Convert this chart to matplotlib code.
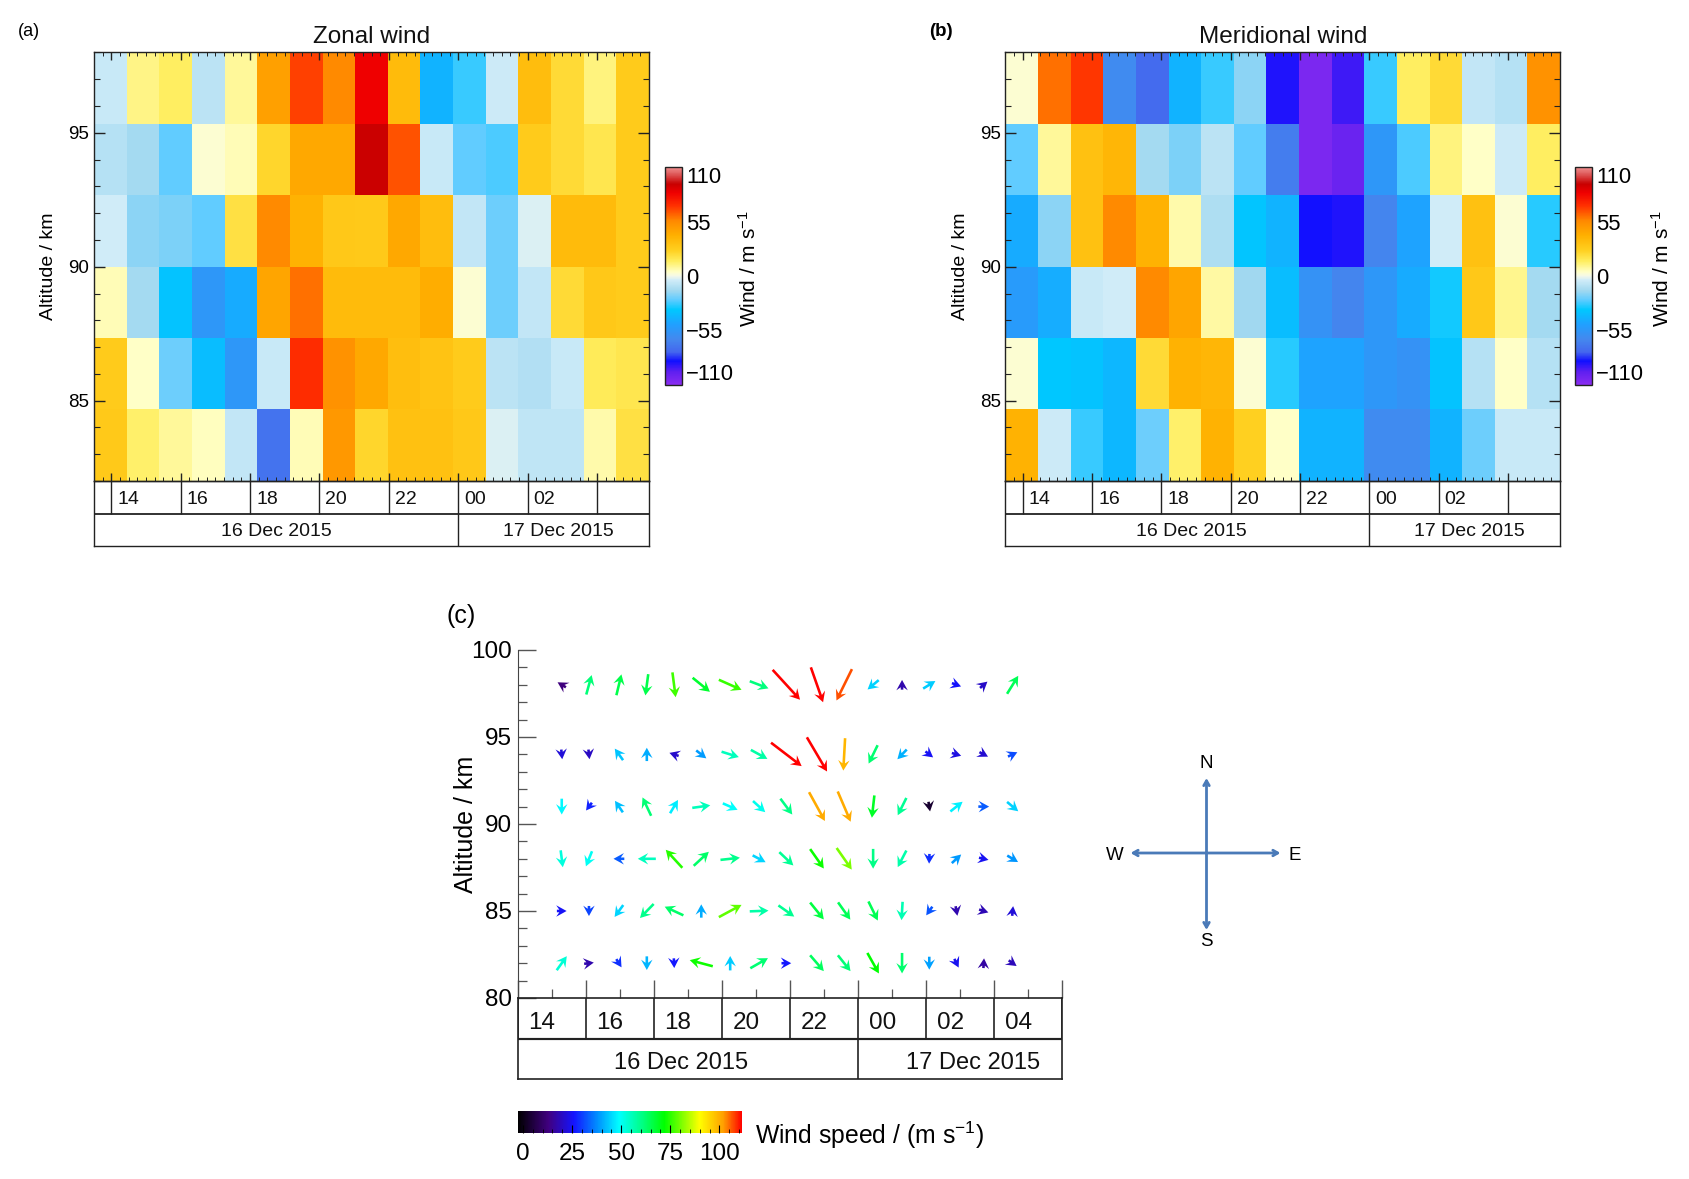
import numpy as np
import matplotlib
matplotlib.use('Agg')
import matplotlib.pyplot as plt
from matplotlib.colors import LinearSegmentedColormap, Normalize
from matplotlib.ticker import MultipleLocator

plt.rcParams['font.family'] = ['Liberation Sans', 'DejaVu Sans']
plt.rcParams['mathtext.default'] = 'regular'

W, H = 1690, 1179

# Panel (a) zonal wind, m/s, rows top (98 km) to bottom (82 km)
zonal = [
    [-6, 11, 15, -9, 9, 47, 68, 55, 84, 36, -42, -28, -5, 35, 22, 12, 28],
    [-10, -14, -24, 3, 6, 24, 44, 44, 92, 65, -6, -24, -26, 28, 22, 18, 28],
    [-4, -18, -20, -24, 20, 55, 40, 30, 29, 44, 35, -7, -22, -3, 36, 36, 28],
    [6, -14, -36, -55, -45, 45, 60, 36, 36, 36, 42, 3, -22, -7, 22, 30, 28],
    [28, 4, -22, -38, -55, -6, 72, 52, 44, 34, 32, 28, -9, -11, -6, 16, 18],
    [29, 14, 9, 5, -7, -72, 6, 50, 24, 33, 33, 30, -3, -8, -8, 7, 20],
]
# Panel (b) meridional wind, m/s
meridional = [
    [3, 60, 70, -62, -75, -42, -28, -18, -88, -105, -92, -28, 15, 22, -7, -10, 52],
    [-24, 9, 33, 38, -14, -20, -9, -24, -68, -105, -100, -55, -26, 12, 4, -5, 15],
    [-45, -18, 33, 55, 40, 7, -12, -35, -42, -86, -88, -65, -48, -4, 33, 3, -30],
    [-52, -44, -6, -4, 55, 45, 8, -15, -38, -58, -65, -55, -45, -32, 30, 10, -14],
    [3, -34, -36, -40, 22, 40, 38, 3, -30, -48, -48, -55, -58, -36, -10, 4, -10],
    [40, -5, -28, -40, -22, 14, 40, 26, 4, -42, -42, -62, -62, -42, -22, -6, -6],
]
alt_edges = [82, 84.67, 87.33, 90, 92.67, 95.33, 98]
hour_labels = ['14', '16', '18', '20', '22', '00', '02']
hour_ticks = [14, 16, 18, 20, 22, 24, 26, 28]

# Panel (c) arrows
arrow_hours = [14.3, 15.1, 15.98, 16.8, 17.6, 18.4, 19.25, 20.1, 20.9, 21.8, 22.6, 23.45, 24.3, 25.1, 25.9, 26.7, 27.55]
arrow_alts = [98, 94, 91, 88, 85, 82]
arrow_u = [
    [-10, 15, 14, -8, 9, 48, 63, 52, 76, 34, -43, -31, 0, 34, 22, 14, 31],
    [2, 2, -23, 0, -18, 28, 48, 46, 85, 56, -5, -25, -26, 18, 20, 17, 26],
    [0, -15, -22, -24, 22, 50, 41, 34, 33, 44, 36, -7, -24, 0.5, 34, 30, 31],
    [6, -17, -30, -50, -46, 42, 54, 36, 39, 38, 42, 0, -24, -1, 26, 22, 30],
    [23, 0, -24, -38, -52, 0, 63, 52, 44, 38, 34, 26, -3, -17, 3, 16, 2],
    [28, 16, 14, 0, 1, -64, 0, 49, 24, 38, 35, 32, 0, 0, 10, 1, 14],
]
arrow_v = [
    [6, 54, 58, -59, -69, -39, -28, -20, -83, -97, -87, -26, 16, 21, -8, 12, 50],
    [-20, -18, 32, 37, 6, -22, -15, -25, -65, -95, -90, -51, -27, -14, -6, -9, 12],
    [-44, -20, 32, 51, 37, 7, -18, -31, -44, -80, -84, -62, -48, -3, 27, 0, -26],
    [-47, -42, 0, 0, 50, 39, 6, -19, -37, -54, -60, -55, -46, -26, 24, -5, -18],
    [0, -28, -33, -39, 24, 37, 34, 2, -31, -47, -48, -53, -51, -24, -16, -5, 20],
    [39, 2, -22, -38, -24, 17, 40, 28, 0, -44, -44, -57, -57, -36, -20, 15, -10],
]
speed_ticks = [0, 25, 50, 75, 100]

fig = plt.figure(figsize=(W / 100, H / 100), dpi=100)


def px_axes(x0, y0, x1, y1):
    return fig.add_axes([x0 / W, 1 - y1 / H, (x1 - x0) / W, (y1 - y0) / H])


overlay = px_axes(0, 0, W, H)
overlay.set_xlim(0, W)
overlay.set_ylim(H, 0)
overlay.axis('off')
overlay.set_zorder(10)

# diverging map, anchors taken from the colour bars
wind_anchors = [
    (-110, '#8a2cf0'), (-97, '#6020f0'), (-86, '#1010ff'), (-77, '#4466ee'),
    (-64, '#4488ee'), (-49, '#20a0ff'), (-34, '#00c8ff'), (-24, '#60ccff'),
    (-15, '#a0d8f0'), (-4, '#d0ecf8'), (0, '#f4f8e8'), (4, '#ffffc8'),
    (15, '#ffee60'), (26, '#ffd020'), (41, '#ffb000'), (56, '#ff8800'),
    (71, '#ff3000'), (84, '#f00000'), (93, '#c80000'), (104, '#e06060'), (110, '#f09090'),
]
wind_cmap = LinearSegmentedColormap.from_list(
    'wind', [((v + 110) / 220, c) for v, c in wind_anchors], N=512)
wind_norm = Normalize(-110, 110)

speed_anchors = [
    (-2.5, '#000000'), (13, '#400080'), (26, '#1414ff'), (38, '#0090ff'), (49, '#00ffff'),
    (61, '#00ff80'), (72, '#00ff00'), (90, '#ffff00'), (102, '#ffa000'), (111.5, '#ff0000'),
]
speed_cmap = LinearSegmentedColormap.from_list(
    'speed', [((v + 2.5) / 114, c) for v, c in speed_anchors], N=512)
speed_norm = Normalize(-2.5, 111.5)

INK = '#222222'


def date_strip(x0, x1, y0, xlim, ticks, divider, y_mid, y_bot, lw):
    # two row box under a panel: hours, then dates
    strip = px_axes(x0, y0, x1, y_bot)
    strip.set_xlim(*xlim)
    strip.set_ylim(y_bot, y0)
    strip.set_xticks([])
    strip.set_yticks([])
    for s in strip.spines.values():
        s.set_linewidth(lw)
        s.set_color(INK)
    strip.patch.set_alpha(0)
    strip.hlines(y_mid, *xlim, color=INK, lw=lw * 1.3)
    strip.vlines(ticks, y0, y_mid, color=INK, lw=lw)
    strip.vlines(divider, y_mid, y_bot, color=INK, lw=lw)
    return strip


def heat_panel(values, x0, x1, title, left_shift):
    ax = px_axes(x0, 52.5, x1, 481)
    time_edges = np.linspace(13.5, 29.5, 18)
    mesh = ax.pcolormesh(time_edges, alt_edges, np.flipud(np.array(values, float)),
                         cmap=wind_cmap, norm=wind_norm, shading='flat')
    ax.set_xlim(13.5, 29.5)
    ax.set_ylim(82, 98)
    ax.set_title(title, fontsize=17.5, pad=6.5, color='#111111')
    ax.set_ylabel('Altitude / km', fontsize=14, labelpad=8)
    ax.set_xticks(hour_ticks)
    ax.set_xticklabels([])
    ax.xaxis.set_minor_locator(MultipleLocator(0.25))
    ax.set_yticks([85, 90, 95])
    ax.yaxis.set_minor_locator(MultipleLocator(1))
    ax.tick_params(axis='y', which='major', direction='in', length=8, width=1, right=True,
                   labelsize=13.5, color=INK)
    ax.tick_params(axis='y', which='minor', direction='in', length=4, width=0.8, right=True, color=INK)
    ax.tick_params(axis='x', which='major', direction='in', length=6, width=1, top=True, color=INK)
    ax.tick_params(axis='x', which='minor', direction='in', length=3, width=0.7, top=True, color=INK)
    for s in ax.spines.values():
        s.set_color(INK)
        s.set_linewidth(1)

    strip = date_strip(x0, x1, 481, (13.5, 29.5), hour_ticks, 24, 513.5, 546, 1)
    for h, lab in zip(hour_ticks, hour_labels):
        strip.annotate(lab, (h, 500), xytext=(6, 0), textcoords='offset pixels',
                       fontsize=14, va='center', ha='left', color='#111111')
    strip.text((13.5 + 24) / 2 + left_shift, 532, '16 Dec 2015', fontsize=14, ha='center', va='center', color='#111111')
    strip.text((24 + 29.5) / 2 + 0.14, 531, '17 Dec 2015', fontsize=14, ha='center', va='center', color='#111111')
    return ax, mesh


def wind_bar(mesh, x0, x1, label_x):
    cax = px_axes(x0, 167, x1, 385)
    cb = fig.colorbar(mesh, cax=cax)
    cb.set_ticks([-110, -55, 0, 55, 110])
    cb.set_ticklabels(['\u2212110', '\u221255', '0', '55', '110'])
    cax.tick_params(length=0, pad=3, labelsize=15.8)
    labs = cax.get_yticklabels()
    labs[0].set_va('bottom')
    labs[-1].set_va('top')
    cb.outline.set_edgecolor(INK)
    cb.outline.set_linewidth(1)
    overlay.text(label_x, 269, 'Wind / m s$^{-1}$', rotation=90, fontsize=15,
                 ha='center', va='center')


ax_a, mesh_a = heat_panel(zonal, 94, 649, 'Zonal wind', 0)
wind_bar(mesh_a, 665, 682, 749)
ax_b, mesh_b = heat_panel(meridional, 1005.5, 1560, 'Meridional wind', 0.12)
wind_bar(mesh_b, 1575, 1592, 1662)
overlay.text(18, 31, '(a)', fontsize=13, ha='left', va='center')
overlay.text(929, 31, '(b)', fontsize=13.5, ha='left', va='center', fontweight='bold')

# panel (c)
ax_c = px_axes(517.5, 650, 1062, 998)
X, Y = np.meshgrid(arrow_hours, arrow_alts)
U = np.array(arrow_u, float)
V = np.array(arrow_v, float)
speed = np.hypot(U, V)
# the shortest arrows keep a minimum drawn length, colour still gives the speed
stretch = np.maximum(speed, 27) / speed
ax_c.quiver(X, Y, U * stretch, V * stretch, speed * 1.1, cmap=speed_cmap, norm=speed_norm,
            pivot='mid', angles='uv', units='dots', scale_units='dots', scale=1 / 0.36,
            width=2.6, headlength=4.0, headwidth=4.4, headaxislength=2.8, minshaft=0.5, minlength=0.5)
ax_c.set_xlim(13, 29)
ax_c.set_ylim(80, 100)
ax_c.patch.set_alpha(0)
for side in ['top', 'right', 'bottom']:
    ax_c.spines[side].set_visible(False)
ax_c.spines['left'].set_color('#444444')
ax_c.set_yticks([80, 85, 90, 95, 100])
ax_c.yaxis.set_minor_locator(MultipleLocator(1))
ax_c.set_xticks(list(range(13, 30, 2)))
ax_c.set_xticks(list(range(14, 29, 2)), minor=True)
ax_c.set_xticklabels([])
ax_c.tick_params(axis='y', which='major', direction='in', length=13, width=1, color='#555555',
                 labelsize=17.5, pad=4)
ax_c.tick_params(axis='y', which='minor', direction='in', length=6.5, width=0.9, color='#555555')
ax_c.tick_params(axis='x', which='major', direction='in', length=13, width=1, color='#555555')
ax_c.tick_params(axis='x', which='minor', direction='in', length=6.5, width=0.9, color='#555555')
ax_c.set_ylabel('Altitude / km', fontsize=18, labelpad=-5)

c_ticks = list(range(13, 30, 2))
c_labels = ['14', '16', '18', '20', '22', '00', '02', '04']
strip_c = date_strip(517.5, 1062, 998, (13, 29), c_ticks, 23, 1039, 1079, 1.2)
for h, lab in zip(c_ticks, c_labels):
    strip_c.annotate(lab, (h, 1023), xytext=(11, 0), textcoords='offset pixels',
                     fontsize=17.5, va='center', ha='left', color='#111111')
strip_c.text(17.8, 1063, '16 Dec 2015', fontsize=17, ha='center', va='center', color='#111111')
strip_c.text(26.4, 1063, '17 Dec 2015', fontsize=17, ha='center', va='center', color='#111111')
overlay.text(447, 616, '(c)', fontsize=18, ha='left', va='center')

# speed colour bar
cax_c = px_axes(518, 1111, 742, 1133)
sm = plt.cm.ScalarMappable(norm=speed_norm, cmap=speed_cmap)
cb_c = fig.colorbar(sm, cax=cax_c, orientation='horizontal')
cb_c.set_ticks(speed_ticks)
cb_c.ax.xaxis.set_minor_locator(MultipleLocator(5))
cb_c.outline.set_visible(False)
cax_c.tick_params(axis='x', which='major', direction='in', length=6, width=0.8, labelsize=17.5, pad=7)
cax_c.tick_params(axis='x', which='minor', direction='in', length=3, width=0.6)
overlay.text(755, 1135, 'Wind speed / (m s$^{-1}$)', fontsize=17.8, ha='left', va='center')

# compass
compass_color = '#4a7ab8'
cx, cy = 1206.5, 853
for dx, dy in [(0, -75), (0, 77), (-76, 0), (74, 0)]:
    overlay.annotate('', xy=(cx + dx, cy + dy), xytext=(cx, cy),
                     arrowprops=dict(arrowstyle='->,head_length=0.35,head_width=0.2',
                                     color=compass_color, lw=2, shrinkA=0, shrinkB=0))
overlay.text(1206.5, 764, 'N', fontsize=13.5, ha='center', va='center')
overlay.text(1206.5, 942, 'S', fontsize=13.5, ha='center', va='center')
overlay.text(1115, 856, 'W', fontsize=13.5, ha='center', va='center')
overlay.text(1295, 856, 'E', fontsize=13.5, ha='center', va='center')

fig.savefig('out.png', dpi=100)
